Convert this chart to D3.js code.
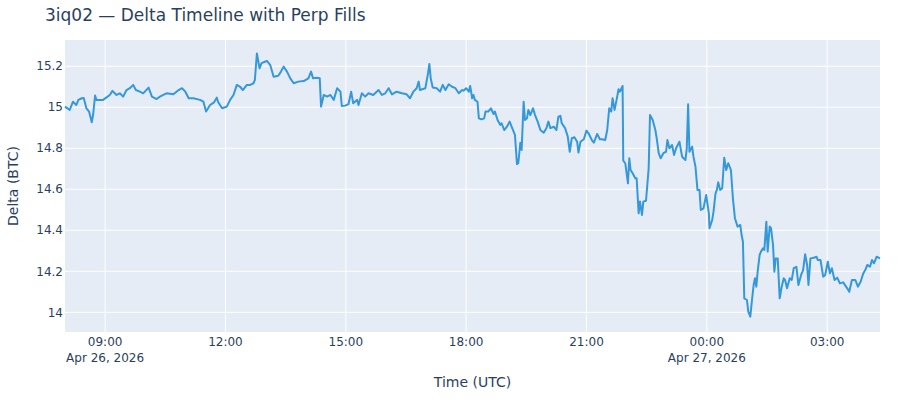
<!DOCTYPE html>
<html>
<head>
<meta charset="utf-8">
<script src="https://cdn.jsdelivr.net/npm/d3@7"></script>
<style>
  body { margin: 0; background: #fff; }
  text { font-family: "DejaVu Sans", Verdana, sans-serif; fill: #2a3f5f; }
</style>
</head>
<body>
<div id="chart"></div>
<script>
// delta samples, Apr 26 08:00 UTC -> Apr 27 ~04:20 UTC
const times = [
  "08:00","08:07","08:12","08:17","08:20","08:25","08:28","08:32","08:36","08:40",
  "08:42","08:45","08:47","08:57","09:07","09:11","09:17","09:22","09:27","09:32",
  "09:37","09:42","09:46","09:52","09:57","10:05","10:10","10:17","10:22","10:27",
  "10:32","10:42","10:50","10:55","11:00","11:05","11:12","11:22","11:27","11:31",
  "11:37","11:43","11:47","11:49","11:55","12:02","12:07","12:12","12:17","12:22",
  "12:26","12:32","12:37","12:42","12:44","12:47","12:51","12:54","12:59","13:02",
  "13:07","13:12","13:19","13:23","13:27","13:32","13:37","13:42","13:49","13:57",
  "14:04","14:08","14:11","14:17","14:21","14:23","14:27","14:32","14:37","14:42",
  "14:47","14:52","14:54","14:59","15:04","15:08","15:11","15:17","15:19","15:24",
  "15:29","15:34","15:41","15:49","15:54","15:59","16:04","16:09","16:16","16:24",
  "16:31","16:36","16:41","16:46","16:49","16:51","16:59","17:03","17:05","17:07",
  "17:10","17:16","17:21","17:25","17:29","17:34","17:39","17:44","17:49","17:54",
  "17:56","18:00","18:04","18:06","18:09","18:11","18:13","18:17","18:19","18:23",
  "18:27","18:29","18:33","18:37","18:41","18:43","18:47","18:51","18:53","18:57",
  "19:01","19:05","19:08","19:11","19:13","19:16","19:18","19:21","19:23","19:26",
  "19:28","19:31","19:33","19:36","19:40","19:43","19:47","19:51","19:56","20:00",
  "20:03","20:06","20:11","20:15","20:18","20:21","20:23","20:28","20:32","20:35",
  "20:38","20:42","20:46","20:48","20:51","20:56","21:00","21:03","21:08","21:11",
  "21:16","21:20","21:23","21:28","21:31","21:34","21:37","21:39","21:42","21:45",
  "21:48","21:50","21:54","21:55","21:58","22:02","22:04","22:06","22:09","22:13",
  "22:15","22:18","22:20","22:23","22:25","22:29","22:33","22:35","22:39","22:43",
  "22:45","22:48","22:51","22:55","22:59","23:01","23:04","23:08","23:11","23:14",
  "23:19","23:23","23:28","23:30","23:32","23:34","23:38","23:40","23:43","23:46",
  "23:49","23:51","23:55","23:59","00:03","00:04","00:08","00:10","00:13","00:15",
  "00:17","00:20","00:23","00:26","00:29","00:32","00:36","00:39","00:42","00:46",
  "00:50","00:52","00:54","00:56","01:00","01:02","01:05","01:07","01:10","01:12",
  "01:14","01:16","01:19","01:21","01:24","01:26","01:29","01:31","01:34","01:36",
  "01:39","01:41","01:43","01:46","01:49","01:52","01:55","01:57","02:00","02:04",
  "02:07","02:10","02:14","02:17","02:21","02:24","02:27","02:30","02:32","02:35",
  "02:40","02:44","02:46","02:50","02:54","02:57","03:01","03:04","03:07","03:11",
  "03:15","03:19","03:24","03:30","03:33","03:37","03:42","03:46","03:50","03:54",
  "03:57","04:00","04:04","04:07","04:10","04:14","04:19"
];
const delta = [
  15.003,14.987,15.027,15.011,15.036,15.044,15.045,14.995,14.979,14.927,
  14.962,15.057,15.036,15.036,15.060,15.080,15.060,15.068,15.052,15.084,
  15.093,15.109,15.084,15.076,15.068,15.096,15.052,15.040,15.052,15.060,
  15.068,15.063,15.084,15.093,15.076,15.044,15.044,15.036,15.027,14.979,
  15.011,15.024,15.047,15.026,14.995,15.003,15.036,15.060,15.109,15.100,
  15.084,15.109,15.109,15.117,15.133,15.262,15.190,15.215,15.222,15.226,
  15.206,15.149,15.154,15.174,15.198,15.174,15.141,15.117,15.125,15.128,
  15.141,15.174,15.141,15.144,15.141,15.003,15.060,15.052,15.060,15.036,
  15.093,15.076,15.006,15.008,15.015,15.076,15.020,15.036,15.011,15.068,
  15.052,15.068,15.060,15.084,15.060,15.068,15.093,15.063,15.076,15.068,
  15.063,15.044,15.076,15.093,15.125,15.084,15.093,15.166,15.211,15.141,
  15.096,15.093,15.076,15.109,15.084,15.112,15.100,15.093,15.068,15.084,
  15.081,15.093,15.076,15.104,15.044,15.060,15.036,15.027,14.946,14.941,
  14.946,14.979,14.979,14.995,14.967,14.979,14.938,14.914,14.922,14.889,
  14.905,14.930,14.905,14.881,14.865,14.723,14.727,14.827,14.792,15.027,
  14.938,14.946,14.987,14.962,14.995,14.962,14.930,14.889,14.876,14.898,
  14.930,14.898,14.905,14.889,14.954,14.958,14.922,14.898,14.857,14.783,
  14.849,14.854,14.832,14.779,14.832,14.844,14.886,14.873,14.840,14.827,
  14.870,14.844,14.844,14.840,14.889,14.995,14.979,15.044,14.987,15.036,
  15.088,15.076,15.104,14.740,14.727,14.629,14.751,14.694,14.678,14.654,
  14.654,14.483,14.540,14.475,14.540,14.544,14.702,14.962,14.938,14.889,
  14.849,14.776,14.751,14.776,14.783,14.840,14.800,14.816,14.767,14.800,
  14.832,14.759,14.743,14.800,15.015,14.783,14.808,14.759,14.710,14.597,
  14.597,14.499,14.507,14.572,14.483,14.410,14.450,14.491,14.580,14.597,
  14.634,14.597,14.605,14.754,14.694,14.727,14.694,14.556,14.459,14.418,
  14.426,14.377,14.344,14.068,14.060,14.003,13.979,14.044,14.133,14.166,
  14.125,14.198,14.280,14.296,14.312,14.304,14.442,14.296,14.418,14.410,
  14.328,14.198,14.263,14.263,14.068,14.125,14.166,14.158,14.117,14.166,
  14.158,14.215,14.222,14.133,14.182,14.206,14.283,14.231,14.133,14.263,
  14.266,14.271,14.255,14.255,14.174,14.182,14.247,14.190,14.215,14.158,
  14.169,14.141,14.146,14.117,14.100,14.158,14.158,14.125,14.149,14.190,
  14.206,14.231,14.222,14.255,14.239,14.271,14.263
];
const yTicks = [14, 14.2, 14.4, 14.6, 14.8, 15, 15.2];
const startDay = "2026-04-26";

const W = 900, H = 400;
const margin = {top: 40, right: 20, bottom: 68, left: 65};
const width = W - margin.left - margin.right;
const height = H - margin.top - margin.bottom;

// turn HH:MM into dates, rolling over midnight
const parse = d3.utcParse("%Y-%m-%d %H:%M");
let dayOffset = 0, prev = -1;
const data = times.map((t, i) => {
  const mins = +t.slice(0, 2) * 60 + +t.slice(3);
  if (mins < prev) dayOffset++;
  prev = mins;
  const d = parse(startDay + " " + t);
  return {t: d3.utcDay.offset(d, dayOffset), v: delta[i]};
});

const x = d3.scaleUtc()
  .domain(d3.extent(data, d => d.t))
  .range([0, width]);
const y = d3.scaleLinear()
  .domain([13.904, 15.328])
  .range([height, 0]);

const svg = d3.select("#chart").append("svg")
  .attr("width", W)
  .attr("height", H);

const g = svg.append("g")
  .attr("transform", "translate(" + margin.left + "," + margin.top + ")");

g.append("rect")
  .attr("width", width)
  .attr("height", height)
  .attr("fill", "#e5ecf6");

// grid
const xTicks = x.ticks(d3.utcHour.every(3));
g.selectAll(".xgrid").data(xTicks).enter().append("line")
  .attr("x1", d => x(d)).attr("x2", d => x(d))
  .attr("y1", 0).attr("y2", height)
  .attr("stroke", "#fff").attr("stroke-width", 1);
g.selectAll(".ygrid").data(yTicks).enter().append("line")
  .attr("x1", 0).attr("x2", width)
  .attr("y1", d => y(d)).attr("y2", d => y(d))
  .attr("stroke", "#fff").attr("stroke-width", 1);

// x axis labels, date shown under the first tick and at midnight
const fmtTime = d3.utcFormat("%H:%M");
const fmtDate = d3.utcFormat("%b %-d, %Y");
const xAxis = g.append("g").attr("transform", "translate(0," + height + ")");
xTicks.forEach((d, i) => {
  xAxis.append("text")
    .attr("x", x(d)).attr("y", 14)
    .attr("text-anchor", "middle")
    .attr("font-size", 12)
    .text(fmtTime(d));
  if (i === 0 || d.getUTCHours() === 0) {
    xAxis.append("text")
      .attr("x", x(d)).attr("y", 29.5)
      .attr("text-anchor", "middle")
      .attr("font-size", 12)
      .text(fmtDate(d));
  }
});

// y axis labels
const fmtY = d3.format("~g");
g.append("g").selectAll("text").data(yTicks).enter().append("text")
  .attr("x", -2).attr("y", d => y(d))
  .attr("dy", "0.35em")
  .attr("text-anchor", "end")
  .attr("font-size", 12)
  .text(d => fmtY(d));

// line
const line = d3.line()
  .x(d => x(d.t))
  .y(d => y(d.v));
g.append("path")
  .datum(data)
  .attr("fill", "none")
  .attr("stroke", "#3498db")
  .attr("stroke-width", 2)
  .attr("stroke-linejoin", "round")
  .attr("d", line);

// titles
svg.append("text")
  .attr("x", 45).attr("y", 21)
  .attr("font-size", 17)
  .text("3iq02 \u2014 Delta Timeline with Perp Fills");
svg.append("text")
  .attr("x", margin.left + width / 2).attr("y", 387)
  .attr("text-anchor", "middle")
  .attr("font-size", 14)
  .text("Time (UTC)");
svg.append("text")
  .attr("transform", "translate(18," + (margin.top + height / 2) + ") rotate(-90)")
  .attr("text-anchor", "middle")
  .attr("font-size", 14)
  .text("Delta (BTC)");
</script>
</body>
</html>
